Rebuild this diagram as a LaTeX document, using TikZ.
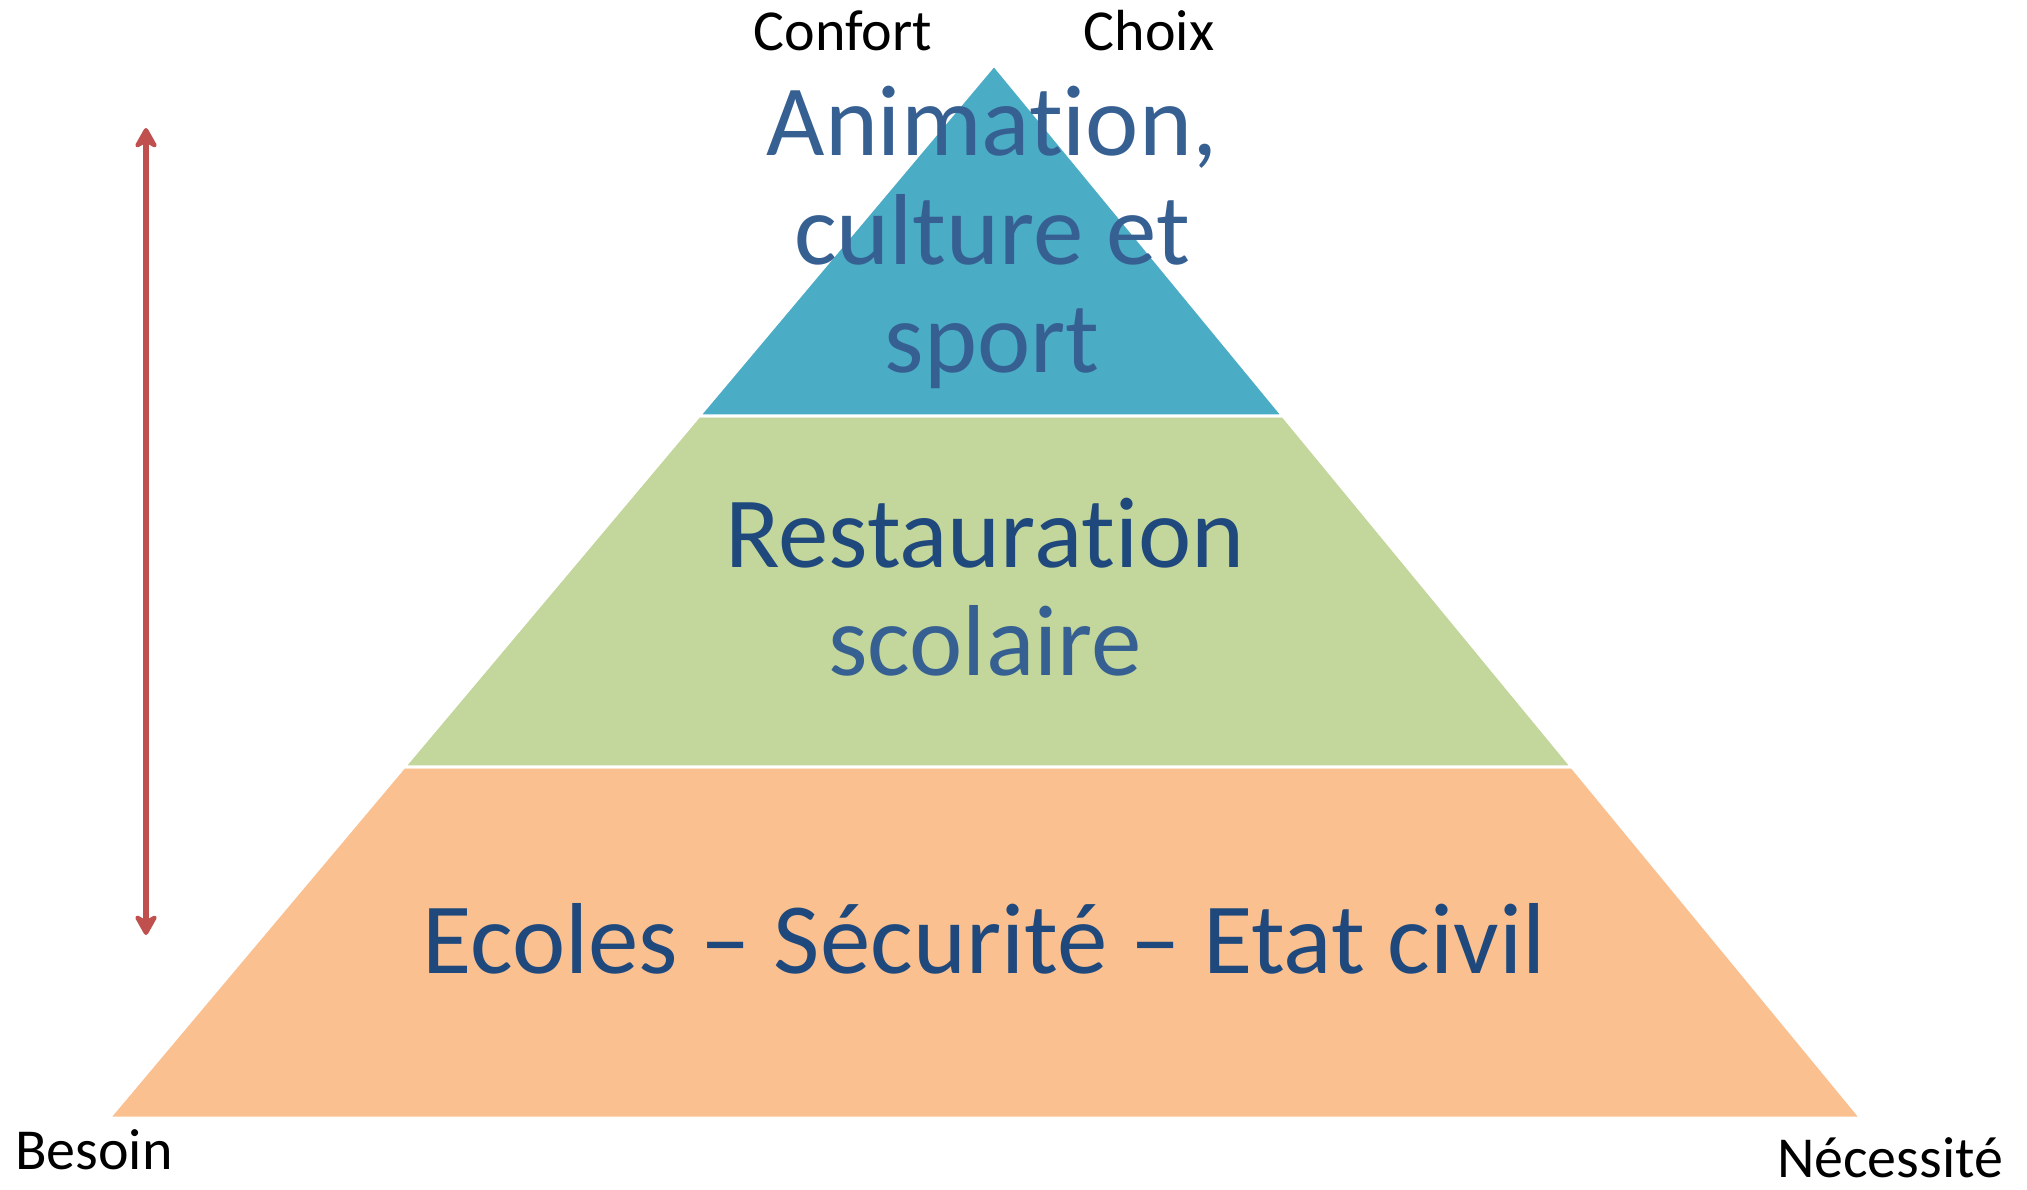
\documentclass[tikz,border=0pt]{standalone}
\usepackage{fontspec}
\setmainfont{Carlito}[Ligatures={NoCommon,NoContextual}]
\usetikzlibrary{arrows.meta, calc}
\definecolor{tierblue}{HTML}{4BACC6}
\definecolor{tiergreen}{HTML}{C3D69B}
\definecolor{tierorange}{HTML}{FAC090}
\definecolor{textdark}{HTML}{1F497D}
\definecolor{textmid}{HTML}{376092}
\definecolor{arrowred}{HTML}{C0504D}

\begin{document}
\begin{tikzpicture}[
        tier/.style={draw=white, line width=0.3mm},
        bigtext/.style={font=\fontsize{28.7}{31}\selectfont, align=center, anchor=base},
        sidetext/.style={font=\fontsize{16.5}{20}\selectfont, anchor=base}
    ]
        \useasboundingbox (0,0) rectangle (20.27,11.89);

        % pyramid outline, split in three equal bands
        \coordinate (apex) at (9.94,11.24);
        \coordinate (baseL) at (1.09,0.71);
        \coordinate (baseR) at (18.61,0.71);
        \coordinate (upL) at ($(apex)!1/3!(baseL)$);
        \coordinate (upR) at ($(apex)!1/3!(baseR)$);
        \coordinate (lowL) at ($(apex)!2/3!(baseL)$);
        \coordinate (lowR) at ($(apex)!2/3!(baseR)$);

        \fill[tierorange, tier] (lowL) -- (lowR) -- (baseR) -- (baseL) -- cycle;
        \fill[tiergreen, tier] (upL) -- (upR) -- (lowR) -- (lowL) -- cycle;
        \fill[tierblue, tier] (apex) -- (upR) -- (upL) -- cycle;

        % base anchor sits on the last line
        \node[bigtext, text=textmid] (anim) at (9.92,8.16) {Animation,\\culture et\\sport};
        \node[bigtext] (resto) at (9.85,5.13) {\textcolor{textdark}{Restauration}\\\textcolor{textmid}{scolaire}};
        \node[bigtext, text=textdark] (ecoles) at (9.84,2.16) {Ecoles – Sécurité – Etat civil};

        \node[sidetext] (confort) at (8.43,11.38) {Confort};
        \node[sidetext] (choix) at (11.49,11.38) {Choix};
        \node[sidetext] (besoin) at (0.94,0.2) {Besoin};
        \node[sidetext] (necessite) at (18.90,0.12) {Nécessité};

        % double arrow on the left
        \coordinate (arrtop) at (1.46,10.61);
        \coordinate (arrbot) at (1.46,2.54);
        \draw[arrowred, line width=0.6mm, {Stealth[length=2.5mm,width=2.8mm,inset=0.8mm,round]}-{Stealth[length=2.5mm,width=2.8mm,inset=0.8mm,round]}] (arrtop) -- (arrbot);
\end{tikzpicture}
\end{document}
